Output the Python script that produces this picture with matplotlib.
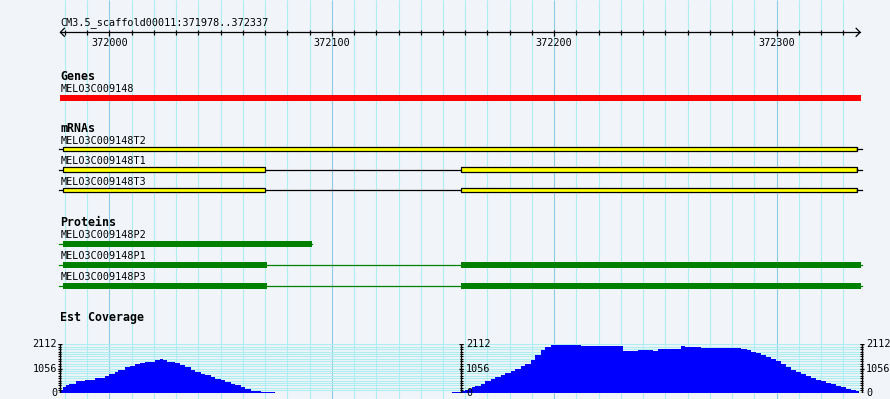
import matplotlib.pyplot as plt
from matplotlib.patches import Rectangle, Polygon

# region shown
ref_name = "CM3.5_scaffold00011"
region_start, region_end = 371978, 372337
ruler_ticks = [372000, 372100, 372200, 372300]

# Genes track
gene_name = "MELO3C009148"
gene_span = (371978, 372338)

# mRNAs track (exon edges, bp)
mrna_names = ["MELO3C009148T2", "MELO3C009148T1", "MELO3C009148T3"]
mrna_exons = [
    [(371979, 372336)],
    [(371979, 372070), (372158, 372336)],
    [(371979, 372070), (372158, 372336)],
]

# Proteins track (CDS edges, bp)
protein_names = ["MELO3C009148P2", "MELO3C009148P1", "MELO3C009148P3"]
protein_cds = [
    [(371979, 372091)],
    [(371979, 372071), (372158, 372338)],
    [(371979, 372071), (372158, 372338)],
]

# Est coverage (step edges in bp, value per step)
cov_max = 2112
cov_left_edges = [371978, 371979, 371980.5, 371982, 371985, 371989, 371993.5, 371998, 372000,
                  372002.5, 372004, 372007, 372009.5, 372011.5, 372014, 372016, 372018.5,
                  372020.5, 372023, 372024, 372026, 372027.5, 372029.5, 372032, 372034,
                  372036.5, 372038.5, 372041, 372043, 372045.5, 372047.5, 372050, 372052,
                  372054.5, 372056.5, 372059, 372061, 372063.5, 372065.5, 372068, 372070,
                  372072.5, 372074.5]
cov_left_vals = [100, 250, 350, 400, 500, 570, 645, 730, 835, 900, 1000, 1100, 1185, 1250,
                 1290, 1335, 1360, 1420, 1465, 1420, 1350, 1320, 1280, 1205, 1100, 1000, 900,
                 830, 760, 690, 615, 545, 470, 400, 330, 250, 175, 75, 60, 30, 20, 15]
cov_right_edges = [372154, 372158, 372160, 372161.5, 372163, 372164.5, 372167, 372169,
                   372171.5, 372173.5, 372176, 372178, 372180.5, 372182.5, 372185, 372187,
                   372189.5, 372191.5, 372194, 372196, 372198.5, 372200.5, 372212, 372225.5,
                   372231, 372237.5, 372244.5, 372246.5, 372257, 372259, 372266, 372272.5,
                   372279.5, 372284, 372286.5, 372288.5, 372290.5, 372293, 372295, 372297.5,
                   372299.5, 372302, 372304, 372306.5, 372308.5, 372311, 372313, 372315.5,
                   372317.5, 372320, 372322, 372324.5, 372326.5, 372329, 372331, 372333.5,
                   372335.5, 372337]
cov_right_vals = [25, 75, 130, 170, 230, 280, 400, 520, 615, 690, 790, 860, 950, 1050, 1150,
                  1270, 1420, 1640, 1850, 2000, 2060, 2100, 2050, 2030, 1810, 1850, 1800, 1900,
                  2050, 2000, 1960, 1930, 1950, 1900, 1850, 1780, 1720, 1660, 1570, 1490, 1400,
                  1250, 1100, 990, 900, 800, 720, 620, 550, 490, 420, 360, 290, 230, 170, 130, 60]

W, H = 890, 399
px_per_bp = 2.2247
x0 = 372000 - 109.3 / px_per_bp
x1 = x0 + W / px_per_bp
px = 1 / px_per_bp  # one pixel in bp

bg = "#f1f5fa"
minor_c = "#aeeef0"
major_c = "#8ccbe6"
mono = "DejaVu Sans Mono"
fs = 7.3
fsb = 8.4

fig = plt.figure(figsize=(W / 100, H / 100), dpi=100, facecolor=bg)
ax = fig.add_axes([0, 0, 1, 1])
ax.set_xlim(x0, x1)
ax.set_ylim(H, 0)
ax.set_facecolor(bg)
ax.axis("off")

# grid lines
for t in range(371980, 372340, 10):
    ax.vlines(t, 0, H, color=major_c if t % 100 == 0 else minor_c, lw=0.8, zorder=0)

# ruler
ax.text(region_start, 25, f"{ref_name}:{region_start}..{region_end}", family=mono,
        fontsize=fs, va="baseline")
ax.plot([region_start, region_end + 0.5], [32.3, 32.3], color="black", lw=0.9)
ax.plot([region_start + 4 * px, region_start, region_start + 4 * px],
        [28.3, 32.3, 36.3], color="black", lw=0.9)
ax.plot([region_end + 0.5 - 4 * px, region_end + 0.5, region_end + 0.5 - 4 * px],
        [28.3, 32.3, 36.3], color="black", lw=0.9)
for t in range(371980, 372340, 10):
    ax.vlines(t, 30, 35 if t % 100 else 36, color="black", lw=0.9)
for t in ruler_ticks:
    ax.text(t, 45.7, str(t), family=mono, fontsize=fs, ha="center", va="baseline")

# Genes
ax.text(region_start, 80, "Genes", family=mono, fontsize=fsb, weight="bold", va="baseline")
ax.text(region_start, 92, gene_name, family=mono, fontsize=fs, va="baseline")
ax.add_patch(Rectangle((gene_span[0], 95), gene_span[1] - gene_span[0], 6,
                       facecolor="#ff0000", lw=0))

# mRNAs
ax.text(region_start, 131.7, "mRNAs", family=mono, fontsize=fsb, weight="bold", va="baseline")
mrna_top = [146.7, 167.3, 187.8]
mrna_base = [144, 164, 185.3]
for name, exons, top, base in zip(mrna_names, mrna_exons, mrna_top, mrna_base):
    ax.text(region_start, base, name, family=mono, fontsize=fs, va="baseline")
    mid = top + 2.3
    ax.plot([region_start - 0.8, region_end + 1.3], [mid, mid], color="black", lw=0.9, zorder=2)
    for i, (a, b) in enumerate(exons):
        ax.add_patch(Rectangle((a, top), b - a, 4.6, facecolor="#ffff00",
                               edgecolor="black", lw=0.9, zorder=3))
        if i == len(exons) - 1:
            ax.add_patch(Polygon([(b, top), (b + 1.5 * px, mid), (b, top + 4.6)],
                                 closed=True, facecolor="black", lw=0, zorder=3))

# Proteins
ax.text(region_start, 226, "Proteins", family=mono, fontsize=fsb, weight="bold", va="baseline")
prot_top = [241, 262, 283.3]
prot_base = [238, 258.7, 280.3]
for name, cds, top, base in zip(protein_names, protein_cds, prot_top, prot_base):
    ax.text(region_start, base, name, family=mono, fontsize=fs, va="baseline")
    mid = top + 2.8
    ax.plot([region_start - 0.8, cds[-1][1] + 0.3], [mid, mid], color="#008000", lw=0.9, zorder=2)
    for a, b in cds:
        ax.add_patch(Rectangle((a, top), b - a, 5.7, facecolor="#008000", lw=0, zorder=3))

# Est Coverage
ax.text(region_start, 320.7, "Est Coverage", family=mono, fontsize=fsb, weight="bold",
        va="baseline")

cov_bottom, cov_top = 392.7, 344.3
cax = fig.add_axes([0, (H - cov_bottom) / H, 1, (cov_bottom - cov_top) / H])
cax.set_xlim(x0, x1)
cax.set_ylim(0, cov_max)
cax.patch.set_alpha(0)
cax.axis("off")

for k in range(21):
    cax.hlines(cov_max * k / 20, region_start, region_end + 1, color=minor_c, lw=0.8, zorder=0)

cax.stairs(cov_left_vals, cov_left_edges, fill=True, color="#0000ff", lw=0, zorder=2)
cax.stairs(cov_right_vals, cov_right_edges, fill=True, color="#0000ff", lw=0, zorder=2)

scales = [(region_start - 0.3, "right", -1.2), (372158.3, "left", 2.0),
          (region_end + 1.2, "left", 2.0)]
for sx, ha, off in scales:
    cax.vlines(sx, 0, cov_max, color="black", lw=1.0, zorder=4)
    for k in range(21):
        cax.hlines(cov_max * k / 20, sx - 1.6 * px, sx + 1.6 * px, color="black", lw=0.8, zorder=4)
    for v in [0, cov_max // 2, cov_max]:
        cax.hlines(v, sx - 2 * px, sx + 2 * px, color="black", lw=1.0, zorder=4)
        cax.text(sx + off, v, str(v), family=mono, fontsize=fs, ha=ha, va="center",
                 clip_on=False, zorder=5)

fig.savefig("out.png", dpi=100, facecolor=bg)
